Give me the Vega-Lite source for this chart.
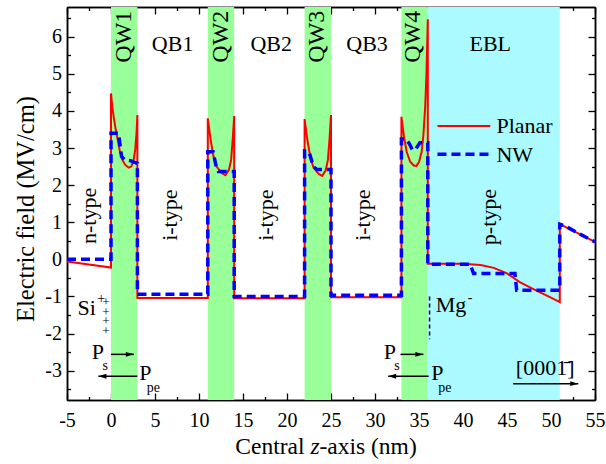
{
 "$schema": "https://vega.github.io/schema/vega-lite/v6.json",
 "width": 528,
 "height": 393,
 "autosize": {"type": "none"},
 "padding": {"left": 67, "top": 7, "right": 11, "bottom": 64},
 "background": "white",
 "config": {
  "font": "Liberation Serif",
  "view": {"stroke": null},
  "axis": {"grid": false, "domainColor": "black", "domainWidth": 1.5, "tickColor": "black", "tickWidth": 1.3, "labelColor": "black", "labelFont": "Liberation Serif", "labelFontSize": 20, "titleFont": "Liberation Serif", "titleFontSize": 24.5, "titleFontWeight": "normal", "titleColor": "black", "labelOverlap": false, "labelFlush": false, "labelBound": false},
  "text": {"font": "Liberation Serif", "color": "black"}
 },
 "datasets": {
  "bands": [{"r": "QW", "a": 0, "b": 3}, {"r": "QW", "a": 11, "b": 14}, {"r": "QW", "a": 22, "b": 25}, {"r": "QW", "a": 33, "b": 36}, {"r": "EBL", "a": 36, "b": 51}],
  "lines": [
   {"s": "Planar", "i": 0, "z": -5, "E": -0.06}, {"s": "Planar", "i": 1, "z": 0, "E": -0.22}, {"s": "Planar", "i": 2, "z": 0, "E": 4.47}, {"s": "Planar", "i": 3, "z": 0.15, "E": 4.1}, {"s": "Planar", "i": 4, "z": 0.3, "E": 3.85}, {"s": "Planar", "i": 5, "z": 0.5, "E": 3.55}, {"s": "Planar", "i": 6, "z": 0.7, "E": 3.3}, {"s": "Planar", "i": 7, "z": 1.0, "E": 2.92}, {"s": "Planar", "i": 8, "z": 1.3, "E": 2.68}, {"s": "Planar", "i": 9, "z": 1.6, "E": 2.55}, {"s": "Planar", "i": 10, "z": 2.0, "E": 2.47}, {"s": "Planar", "i": 11, "z": 2.3, "E": 2.5}, {"s": "Planar", "i": 12, "z": 2.55, "E": 2.65}, {"s": "Planar", "i": 13, "z": 2.75, "E": 2.95}, {"s": "Planar", "i": 14, "z": 2.9, "E": 3.4}, {"s": "Planar", "i": 15, "z": 3, "E": 3.89}, {"s": "Planar", "i": 16, "z": 3, "E": -1.04}, {"s": "Planar", "i": 17, "z": 11, "E": -1.04},
   {"s": "Planar", "i": 18, "z": 11, "E": 3.8}, {"s": "Planar", "i": 19, "z": 11.3, "E": 3.26}, {"s": "Planar", "i": 20, "z": 11.65, "E": 2.77}, {"s": "Planar", "i": 21, "z": 12.0, "E": 2.5}, {"s": "Planar", "i": 22, "z": 12.6, "E": 2.32}, {"s": "Planar", "i": 23, "z": 13.0, "E": 2.27}, {"s": "Planar", "i": 24, "z": 13.4, "E": 2.41}, {"s": "Planar", "i": 25, "z": 13.65, "E": 2.68}, {"s": "Planar", "i": 26, "z": 13.85, "E": 3.3}, {"s": "Planar", "i": 27, "z": 14, "E": 3.86}, {"s": "Planar", "i": 28, "z": 14, "E": -1.05}, {"s": "Planar", "i": 29, "z": 22, "E": -1.05},
   {"s": "Planar", "i": 30, "z": 22, "E": 3.78}, {"s": "Planar", "i": 31, "z": 22.3, "E": 3.24}, {"s": "Planar", "i": 32, "z": 22.65, "E": 2.76}, {"s": "Planar", "i": 33, "z": 23.0, "E": 2.48}, {"s": "Planar", "i": 34, "z": 23.6, "E": 2.3}, {"s": "Planar", "i": 35, "z": 24.0, "E": 2.25}, {"s": "Planar", "i": 36, "z": 24.4, "E": 2.4}, {"s": "Planar", "i": 37, "z": 24.65, "E": 2.68}, {"s": "Planar", "i": 38, "z": 24.85, "E": 3.3}, {"s": "Planar", "i": 39, "z": 25, "E": 3.89}, {"s": "Planar", "i": 40, "z": 25, "E": -1.02}, {"s": "Planar", "i": 41, "z": 33, "E": -1.02},
   {"s": "Planar", "i": 42, "z": 33, "E": 3.84}, {"s": "Planar", "i": 43, "z": 33.3, "E": 3.3}, {"s": "Planar", "i": 44, "z": 33.6, "E": 2.9}, {"s": "Planar", "i": 45, "z": 34.0, "E": 2.63}, {"s": "Planar", "i": 46, "z": 34.4, "E": 2.53}, {"s": "Planar", "i": 47, "z": 34.7, "E": 2.52}, {"s": "Planar", "i": 48, "z": 35.0, "E": 2.62}, {"s": "Planar", "i": 49, "z": 35.3, "E": 2.9}, {"s": "Planar", "i": 50, "z": 35.5, "E": 3.35}, {"s": "Planar", "i": 51, "z": 35.7, "E": 4.1}, {"s": "Planar", "i": 52, "z": 35.85, "E": 5.0}, {"s": "Planar", "i": 53, "z": 36, "E": 6.47},
   {"s": "Planar", "i": 54, "z": 36, "E": -0.12}, {"s": "Planar", "i": 55, "z": 40, "E": -0.12}, {"s": "Planar", "i": 56, "z": 42, "E": -0.15}, {"s": "Planar", "i": 57, "z": 43.5, "E": -0.23}, {"s": "Planar", "i": 58, "z": 45, "E": -0.38}, {"s": "Planar", "i": 59, "z": 46.5, "E": -0.62}, {"s": "Planar", "i": 60, "z": 48, "E": -0.8}, {"s": "Planar", "i": 61, "z": 50, "E": -1.03}, {"s": "Planar", "i": 62, "z": 51, "E": -1.15}, {"s": "Planar", "i": 63, "z": 51, "E": 0.95}, {"s": "Planar", "i": 64, "z": 55, "E": 0.47},
   {"s": "NW", "i": 0, "z": -5, "E": 0}, {"s": "NW", "i": 1, "z": 0, "E": 0}, {"s": "NW", "i": 2, "z": 0, "E": 3.4}, {"s": "NW", "i": 3, "z": 0.85, "E": 3.4}, {"s": "NW", "i": 4, "z": 1.2, "E": 2.77}, {"s": "NW", "i": 5, "z": 1.6, "E": 2.68}, {"s": "NW", "i": 6, "z": 2.2, "E": 2.66}, {"s": "NW", "i": 7, "z": 2.6, "E": 2.62}, {"s": "NW", "i": 8, "z": 3, "E": 2.59}, {"s": "NW", "i": 9, "z": 3, "E": -0.94}, {"s": "NW", "i": 10, "z": 11, "E": -0.94},
   {"s": "NW", "i": 11, "z": 11, "E": 2.9}, {"s": "NW", "i": 12, "z": 11.6, "E": 2.9}, {"s": "NW", "i": 13, "z": 12.0, "E": 2.45}, {"s": "NW", "i": 14, "z": 12.2, "E": 2.37}, {"s": "NW", "i": 15, "z": 14, "E": 2.37}, {"s": "NW", "i": 16, "z": 14, "E": -1.0}, {"s": "NW", "i": 17, "z": 22, "E": -1.0},
   {"s": "NW", "i": 18, "z": 22, "E": 2.92}, {"s": "NW", "i": 19, "z": 22.5, "E": 2.9}, {"s": "NW", "i": 20, "z": 23.0, "E": 2.5}, {"s": "NW", "i": 21, "z": 23.4, "E": 2.42}, {"s": "NW", "i": 22, "z": 25, "E": 2.42}, {"s": "NW", "i": 23, "z": 25, "E": -0.97}, {"s": "NW", "i": 24, "z": 33, "E": -0.97},
   {"s": "NW", "i": 25, "z": 33, "E": 3.24}, {"s": "NW", "i": 26, "z": 33.5, "E": 3.24}, {"s": "NW", "i": 27, "z": 33.9, "E": 3.12}, {"s": "NW", "i": 28, "z": 34.25, "E": 2.95}, {"s": "NW", "i": 29, "z": 34.6, "E": 2.96}, {"s": "NW", "i": 30, "z": 35.1, "E": 3.14}, {"s": "NW", "i": 31, "z": 36, "E": 3.14},
   {"s": "NW", "i": 32, "z": 36, "E": -0.13}, {"s": "NW", "i": 33, "z": 40.8, "E": -0.13}, {"s": "NW", "i": 34, "z": 41.2, "E": -0.38}, {"s": "NW", "i": 35, "z": 45.9, "E": -0.38}, {"s": "NW", "i": 36, "z": 46.1, "E": -0.83}, {"s": "NW", "i": 37, "z": 51, "E": -0.83}, {"s": "NW", "i": 38, "z": 51, "E": 0.95}, {"s": "NW", "i": 39, "z": 51.6, "E": 0.9}, {"s": "NW", "i": 40, "z": 53.3, "E": 0.68}, {"s": "NW", "i": 41, "z": 55, "E": 0.47}
  ],
  "rot22": [{"t": "n-type", "x": -2.5, "y": 1.17}, {"t": "i-type", "x": 6.65, "y": 1.19}, {"t": "i-type", "x": 17.65, "y": 1.19}, {"t": "i-type", "x": 28.65, "y": 1.19}, {"t": "p-type", "x": 43.0, "y": 1.14}],
  "rot24": [{"t": "QW1", "x": 1.45, "y": 6.0}, {"t": "QW2", "x": 12.45, "y": 6.0}, {"t": "QW3", "x": 23.45, "y": 6.0}, {"t": "QW4", "x": 34.35, "y": 6.0}],
  "hc": [{"t": "QB1", "x": 7.0, "y": 5.62}, {"t": "QB2", "x": 18.2, "y": 5.62}, {"t": "QB3", "x": 29.1, "y": 5.62}, {"t": "EBL", "x": 43.1, "y": 5.62}],
  "hl": [{"t": "Planar", "x": 43.8, "y": 3.4}, {"t": "NW", "x": 43.8, "y": 2.63}, {"t": "Si", "x": -3.8, "y": -1.5}, {"t": "P", "x": -2.2, "y": -2.69}, {"t": "P", "x": 3.2, "y": -3.24}, {"t": "P", "x": 31.0, "y": -2.69}, {"t": "P", "x": 36.4, "y": -3.24}, {"t": "Mg", "x": 36.9, "y": -1.41}, {"t": "[0001\u0304]", "x": 46.0, "y": -3.12}],
  "sm": [{"t": "+", "x": -1.1, "y": -1.06}, {"t": "s", "x": -0.65, "y": -2.87}, {"t": "pe", "x": 4.8, "y": -3.47}, {"t": "s", "x": 32.5, "y": -2.87}, {"t": "pe", "x": 37.95, "y": -3.47}, {"t": "-", "x": 40.8, "y": -1.03}],
  "col": [{"t": "+\n+\n+\n+", "x": -0.58, "y": -1.15}],
  "arrows": [{"d": "r", "a": 0, "b": 2.6, "y": -2.56}, {"d": "l", "a": 3.0, "b": -1.43, "y": -3.15}, {"d": "r", "a": 32.9, "b": 35.5, "y": -2.56}, {"d": "l", "a": 36.1, "b": 31.5, "y": -3.15}, {"d": "r", "a": 45.7, "b": 53.1, "y": -3.35}],
  "leg": [{"s": "Planar", "a": 37.1, "b": 43.1, "y": 3.59}, {"s": "NW", "a": 37.1, "b": 43.1, "y": 2.83}]
 },
 "resolve": {"axis": {"x": "independent", "y": "independent"}},
 "layer": [
  {"data": {"name": "bands"}, "mark": {"type": "rect"},
   "encoding": {"x": {"field": "a", "type": "quantitative", "scale": {"domain": [-5, 55], "nice": false, "zero": false}, "axis": null}, "x2": {"field": "b"},
    "color": {"field": "r", "type": "nominal", "scale": {"domain": ["QW", "EBL"], "range": ["#99FF99", "#AAFAFF"]}, "legend": null}}},
  {"data": {"name": "lines"}, "transform": [{"filter": "datum.s === 'Planar'"}], "mark": {"type": "line", "color": "#FF0000", "strokeWidth": 2},
   "encoding": {
    "x": {"field": "z", "type": "quantitative", "scale": {"domain": [-5, 55], "nice": false, "zero": false}, "axis": {"orient": "bottom", "values": [-5, 0, 5, 10, 15, 20, 25, 30, 35, 40, 45, 50, 55], "tickSize": -7, "labelPadding": 17, "labelExpr": "toString(datum.value)", "title": null}},
    "y": {"field": "E", "type": "quantitative", "scale": {"domain": [-3.79, 6.8], "nice": false, "zero": false}, "axis": {"orient": "left", "values": [-3, -2, -1, 0, 1, 2, 3, 4, 5, 6], "tickSize": -7, "labelPadding": 12.5, "labelExpr": "toString(datum.value)", "title": "Electric field (MV/cm)", "titlePadding": 6, "titleY": 201.5}},
    "order": {"field": "i", "type": "quantitative"}}},
  {"data": {"name": "lines"}, "transform": [{"filter": "datum.s === 'NW'"}], "mark": {"type": "line", "color": "#0000FF", "strokeWidth": 3.5, "strokeDash": [9, 5]},
   "encoding": {
    "x": {"field": "z", "type": "quantitative", "scale": {"domain": [-5, 55], "nice": false, "zero": false}, "axis": {"orient": "bottom", "values": [-2.5, 2.5, 7.5, 12.5, 17.5, 22.5, 27.5, 32.5, 37.5, 42.5, 47.5, 52.5], "tickSize": -3.5, "labels": false, "title": null}},
    "y": {"field": "E", "type": "quantitative", "scale": {"domain": [-3.79, 6.8], "nice": false, "zero": false}, "axis": {"orient": "left", "values": [-3.5, -2.5, -1.5, -0.5, 0.5, 1.5, 2.5, 3.5, 4.5, 5.5, 6.5], "tickSize": -3.5, "labels": false, "title": null}},
    "order": {"field": "i", "type": "quantitative"}}},
  {"data": {"name": "lines"}, "mark": {"type": "point", "opacity": 0},
   "encoding": {
    "x": {"field": "z", "type": "quantitative", "scale": {"domain": [-5, 55], "nice": false, "zero": false}, "axis": {"orient": "top", "values": [-5, 0, 5, 10, 15, 20, 25, 30, 35, 40, 45, 50, 55], "tickSize": -7, "labels": false, "title": null}},
    "y": {"field": "E", "type": "quantitative", "scale": {"domain": [-3.79, 6.8], "nice": false, "zero": false}, "axis": {"orient": "right", "values": [-3, -2, -1, 0, 1, 2, 3, 4, 5, 6], "tickSize": -7, "labels": false, "title": null}}}},
  {"data": {"name": "lines"}, "mark": {"type": "point", "opacity": 0},
   "encoding": {
    "x": {"field": "z", "type": "quantitative", "scale": {"domain": [-5, 55], "nice": false, "zero": false}, "axis": {"orient": "top", "values": [-2.5, 2.5, 7.5, 12.5, 17.5, 22.5, 27.5, 32.5, 37.5, 42.5, 47.5, 52.5], "tickSize": -3.5, "labels": false, "title": null}},
    "y": {"field": "E", "type": "quantitative", "scale": {"domain": [-3.79, 6.8], "nice": false, "zero": false}, "axis": {"orient": "right", "values": [-3.5, -2.5, -1.5, -0.5, 0.5, 1.5, 2.5, 3.5, 4.5, 5.5, 6.5], "tickSize": -3.5, "labels": false, "title": null}}}},
  {"data": {"name": "leg"}, "transform": [{"filter": "datum.s === 'Planar'"}], "mark": {"type": "rule", "color": "#FF0000", "strokeWidth": 2},
   "encoding": {"x": {"field": "a", "type": "quantitative", "scale": {"domain": [-5, 55], "nice": false, "zero": false}, "axis": null}, "x2": {"field": "b"}, "y": {"field": "y", "type": "quantitative", "scale": {"domain": [-3.79, 6.8], "nice": false, "zero": false}, "axis": null}}},
  {"data": {"name": "leg"}, "transform": [{"filter": "datum.s === 'NW'"}], "mark": {"type": "rule", "color": "#0000FF", "strokeWidth": 3.5, "strokeDash": [9, 5]},
   "encoding": {"x": {"field": "a", "type": "quantitative", "scale": {"domain": [-5, 55], "nice": false, "zero": false}, "axis": null}, "x2": {"field": "b"}, "y": {"field": "y", "type": "quantitative", "scale": {"domain": [-3.79, 6.8], "nice": false, "zero": false}, "axis": null}}},
  {"data": {"values": [{"x": 36.2, "a": -1.0, "b": -2.15}]}, "mark": {"type": "rule", "color": "black", "strokeWidth": 1.5, "strokeDash": [4, 3]},
   "encoding": {"x": {"field": "x", "type": "quantitative", "scale": {"domain": [-5, 55], "nice": false, "zero": false}, "axis": null}, "y": {"field": "a", "type": "quantitative", "scale": {"domain": [-3.79, 6.8], "nice": false, "zero": false}, "axis": null}, "y2": {"field": "b"}}},
  {"data": {"name": "arrows"}, "mark": {"type": "rule", "color": "black", "strokeWidth": 1.5},
   "encoding": {"x": {"field": "a", "type": "quantitative", "scale": {"domain": [-5, 55], "nice": false, "zero": false}, "axis": null}, "x2": {"field": "b"}, "y": {"field": "y", "type": "quantitative", "scale": {"domain": [-3.79, 6.8], "nice": false, "zero": false}, "axis": null}}},
  {"data": {"name": "arrows"}, "transform": [{"filter": "datum.d === 'r'"}], "mark": {"type": "point", "shape": "M0,0L-2,-0.6L-2,0.6Z", "filled": true, "color": "black", "opacity": 1, "size": 64, "strokeWidth": 0},
   "encoding": {"x": {"field": "b", "type": "quantitative", "scale": {"domain": [-5, 55], "nice": false, "zero": false}, "axis": null}, "y": {"field": "y", "type": "quantitative", "scale": {"domain": [-3.79, 6.8], "nice": false, "zero": false}, "axis": null}}},
  {"data": {"name": "arrows"}, "transform": [{"filter": "datum.d === 'l'"}], "mark": {"type": "point", "shape": "M0,0L2,-0.6L2,0.6Z", "filled": true, "color": "black", "opacity": 1, "size": 64, "strokeWidth": 0},
   "encoding": {"x": {"field": "b", "type": "quantitative", "scale": {"domain": [-5, 55], "nice": false, "zero": false}, "axis": null}, "y": {"field": "y", "type": "quantitative", "scale": {"domain": [-3.79, 6.8], "nice": false, "zero": false}, "axis": null}}},
  {"data": {"name": "rot22"}, "mark": {"type": "text", "angle": 270, "align": "center", "baseline": "middle", "fontSize": 22},
   "encoding": {"x": {"field": "x", "type": "quantitative", "scale": {"domain": [-5, 55], "nice": false, "zero": false}, "axis": null}, "y": {"field": "y", "type": "quantitative", "scale": {"domain": [-3.79, 6.8], "nice": false, "zero": false}, "axis": null}, "text": {"field": "t"}}},
  {"data": {"name": "rot24"}, "mark": {"type": "text", "angle": 270, "align": "center", "baseline": "middle", "fontSize": 24},
   "encoding": {"x": {"field": "x", "type": "quantitative", "scale": {"domain": [-5, 55], "nice": false, "zero": false}, "axis": null}, "y": {"field": "y", "type": "quantitative", "scale": {"domain": [-3.79, 6.8], "nice": false, "zero": false}, "axis": null}, "text": {"field": "t"}}},
  {"data": {"name": "hc"}, "mark": {"type": "text", "align": "center", "baseline": "alphabetic", "fontSize": 22},
   "encoding": {"x": {"field": "x", "type": "quantitative", "scale": {"domain": [-5, 55], "nice": false, "zero": false}, "axis": null}, "y": {"field": "y", "type": "quantitative", "scale": {"domain": [-3.79, 6.8], "nice": false, "zero": false}, "axis": null}, "text": {"field": "t"}}},
  {"data": {"name": "hl"}, "mark": {"type": "text", "align": "left", "baseline": "alphabetic", "fontSize": 22},
   "encoding": {"x": {"field": "x", "type": "quantitative", "scale": {"domain": [-5, 55], "nice": false, "zero": false}, "axis": null}, "y": {"field": "y", "type": "quantitative", "scale": {"domain": [-3.79, 6.8], "nice": false, "zero": false}, "axis": null}, "text": {"field": "t"}}},
  {"data": {"name": "sm"}, "mark": {"type": "text", "align": "center", "baseline": "middle", "fontSize": 14},
   "encoding": {"x": {"field": "x", "type": "quantitative", "scale": {"domain": [-5, 55], "nice": false, "zero": false}, "axis": null}, "y": {"field": "y", "type": "quantitative", "scale": {"domain": [-3.79, 6.8], "nice": false, "zero": false}, "axis": null}, "text": {"field": "t"}}},
  {"data": {"name": "col"}, "mark": {"type": "text", "align": "center", "baseline": "middle", "fontSize": 13, "lineBreak": "\n", "lineHeight": 9.7},
   "encoding": {"x": {"field": "x", "type": "quantitative", "scale": {"domain": [-5, 55], "nice": false, "zero": false}, "axis": null}, "y": {"field": "y", "type": "quantitative", "scale": {"domain": [-3.79, 6.8], "nice": false, "zero": false}, "axis": null}, "text": {"field": "t"}}},
  {"data": {"values": [{"t": "Central", "x": 21.99, "y": -5.25}]}, "mark": {"type": "text", "align": "right", "baseline": "alphabetic", "fontSize": 23.5},
   "encoding": {"x": {"field": "x", "type": "quantitative", "scale": {"domain": [-5, 55], "nice": false, "zero": false}, "axis": null}, "y": {"field": "y", "type": "quantitative", "scale": {"domain": [-3.79, 6.8], "nice": false, "zero": false}, "axis": null}, "text": {"field": "t"}}},
  {"data": {"values": [{"t": "z", "x": 23.18, "y": -5.25}]}, "mark": {"type": "text", "align": "center", "baseline": "alphabetic", "fontSize": 23.5, "fontStyle": "italic"},
   "encoding": {"x": {"field": "x", "type": "quantitative", "scale": {"domain": [-5, 55], "nice": false, "zero": false}, "axis": null}, "y": {"field": "y", "type": "quantitative", "scale": {"domain": [-3.79, 6.8], "nice": false, "zero": false}, "axis": null}, "text": {"field": "t"}}},
  {"data": {"values": [{"t": "-axis (nm)", "x": 23.69, "y": -5.25}]}, "mark": {"type": "text", "align": "left", "baseline": "alphabetic", "fontSize": 23.5},
   "encoding": {"x": {"field": "x", "type": "quantitative", "scale": {"domain": [-5, 55], "nice": false, "zero": false}, "axis": null}, "y": {"field": "y", "type": "quantitative", "scale": {"domain": [-3.79, 6.8], "nice": false, "zero": false}, "axis": null}, "text": {"field": "t"}}}
 ]
}
